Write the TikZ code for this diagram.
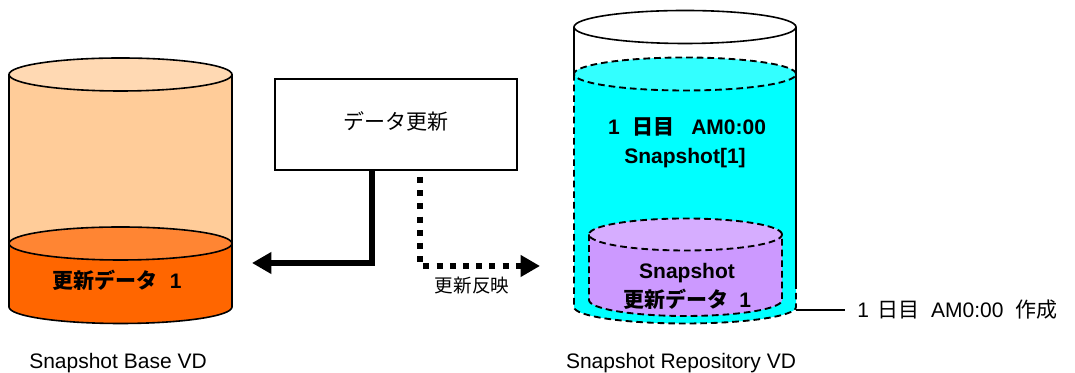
\documentclass[tikz,border=0pt]{standalone}
\usepackage{fontspec}
\setmainfont{Liberation Sans}
\newfontfamily\jp{Noto Sans CJK JP}
\usepackage{tikz}
\usetikzlibrary{arrows.meta,calc}
\definecolor{basecolor}{RGB}{255,204,153}
\definecolor{basetop}{RGB}{255,217,179}
\definecolor{updcolor}{RGB}{255,102,0}
\definecolor{updtop}{RGB}{255,133,51}
\definecolor{repocolor}{RGB}{0,255,255}
\definecolor{repotop}{RGB}{51,255,255}
\definecolor{snapcolor}{RGB}{204,153,255}
\definecolor{snaptop}{RGB}{214,173,255}
\tikzset{
    lbl/.style={font=\fontsize{15.75}{18}\selectfont, inner sep=0pt},
    lblb/.style={font=\fontsize{15.75}{18}\selectfont\bfseries, inner sep=0pt},
    solidline/.style={line width=1.2pt},
    dashline/.style={line width=1.4pt, dash pattern=on 5pt off 3pt},
    bigarrow/.style={line width=4.5pt, -{Triangle[length=14.5pt,width=15.5pt]}}
}

\begin{document}
\begin{tikzpicture}[x=0.75pt, y=0.75pt]

    \useasboundingbox (0,0) rectangle (1075,373);

    % Snapshot Base VD
    \fill[basecolor] (9,298.5) -- (9,129.5) -- (232,129.5) -- (232,298.5) -- cycle;
    \draw[solidline] (9,129.5) -- (9,298.5);
    \draw[solidline] (232,129.5) -- (232,298.5);
    \draw[solidline, fill=basetop] (120.5,298.5) ellipse (111.5 and 16.5);
    \draw[solidline, fill=updcolor] (9,129.5) -- (9,66) arc (180:360:111.5 and 16.5) -- (232,129.5) -- cycle;
    \draw[solidline, fill=updtop] (120.5,129.5) ellipse (111.5 and 16.5);
    \node[lblb] (upd) at (117,93) {{\jp 更新データ}\hspace{5pt} 1};
    \node[lbl] (baselabel) at (118,9.5) {Snapshot Base VD};

    % Update box
    \node[draw, line width=1.1pt, lbl, minimum width=181.5pt, minimum height=68.25pt] (box) at (396,248.5) {};
    \node[lbl] (boxlabel) at (395.5,252) {\jp データ更新};

    % Arrows
    \coordinate (bendl) at (372,110);
    \coordinate (tipl) at (252,110);
    \coordinate (startr) at (420,196);
    \coordinate (bendr) at (420,107);
    \coordinate (tipr) at (540,107);
    \draw[bigarrow] (box.south -| bendl) -- (bendl) -- (tipl);
    \draw[bigarrow, dash pattern=on 4.5pt off 5.4pt] (startr) -- (bendr) -- (tipr);
    \node[font=\fontsize{13.9}{16}\selectfont\jp, inner sep=0pt] (reflect) at (472,87) {更新反映};

    % Snapshot Repository VD
    \draw[solidline] (574,346) -- (574,299);
    \draw[solidline] (796,346) -- (796,90);
    \draw[solidline] (685,346) ellipse (111 and 16.5);
    \fill[repocolor] (574,299) -- (574,66) arc (180:360:111 and 16.5) -- (796,299) -- cycle;
    \fill[repotop] (685,299) ellipse (111 and 16.5);
    \draw[dashline] (574,299) -- (574,66) arc (180:360:111 and 16.5) -- (796,299);
    \draw[dashline] (685,299) ellipse (111 and 16.5);
    \draw[solidline] (796,299) -- (796,90);
    \node[lblb] (day) at (687,246.5) {1\hspace{5pt} {\jp 日目}\hspace{4pt} \ AM0:00};
    \node[lblb] (snap) at (685,214.5) {Snapshot[1]};

    % Snapshot data
    \fill[snapcolor] (589,138.5) -- (589,73) arc (180:360:96.5 and 16) -- (782,138.5) -- cycle;
    \fill[snaptop] (685.5,138.5) ellipse (96.5 and 16);
    \draw[dashline] (589,138.5) -- (589,73) arc (180:360:96.5 and 16) -- (782,138.5);
    \draw[dashline] (685.5,138.5) ellipse (96.5 and 16);
    \node[lblb] (snapupd) at (687,99.5) {Snapshot};
    \node[lblb] (snapupdb) at (687,74) {{\jp 更新データ}\hspace{4pt} 1};
    \node[lbl] (repolabel) at (681,9.5) {Snapshot Repository VD};

    % Creation label
    \node[lbl, anchor=west] (created) at (857,63) {1\hspace{2pt} {\jp 日目} \ AM0:00 \ {\jp 作成}};
    \coordinate (leader) at (796,63);
    \draw[line width=1pt] (leader) -- (845,63);

\end{tikzpicture}
\end{document}
